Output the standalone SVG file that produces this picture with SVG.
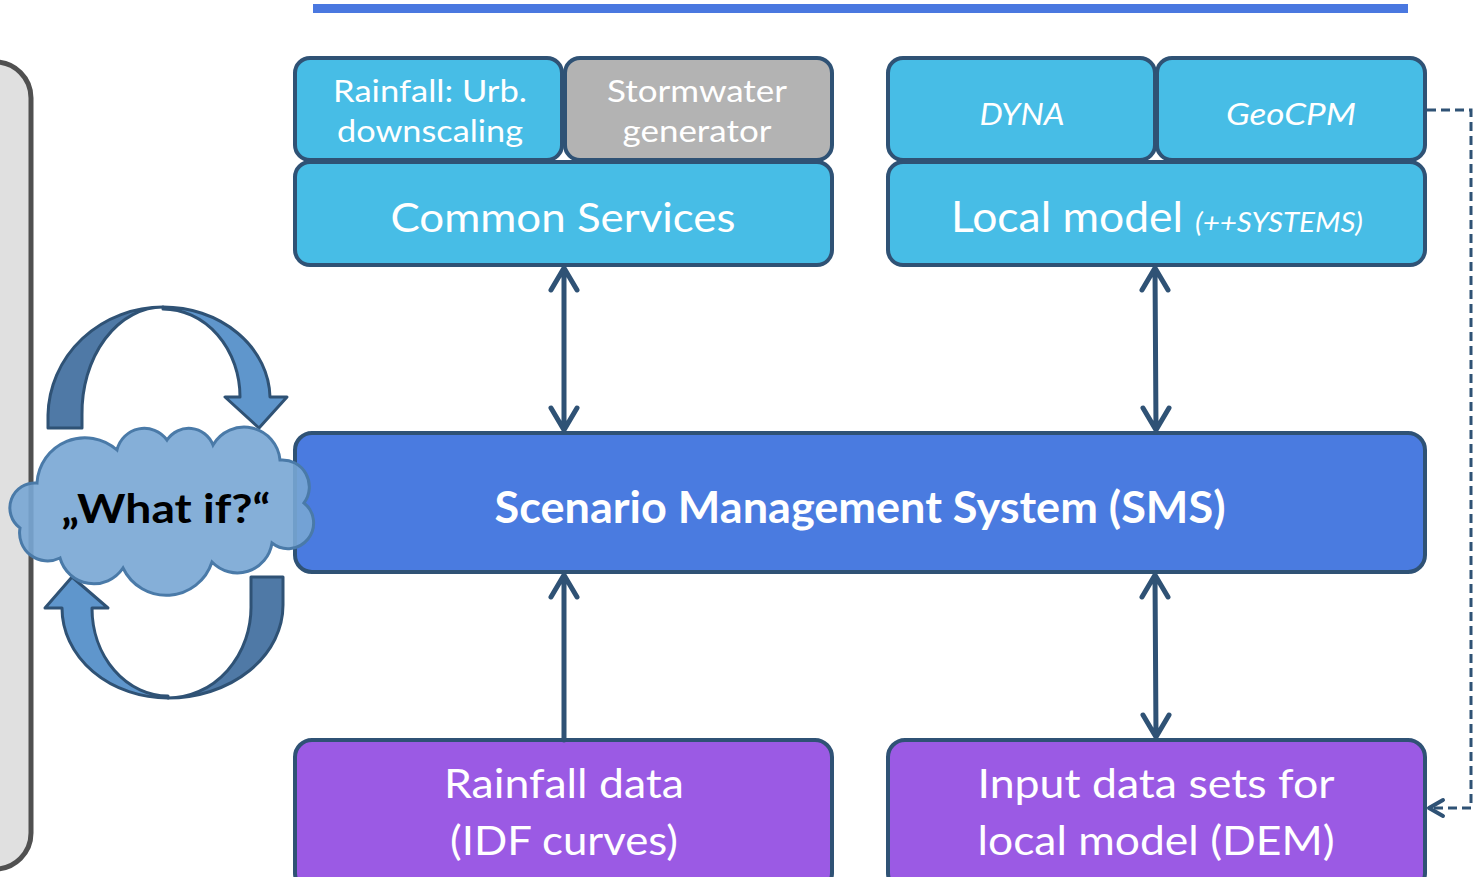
<svg xmlns="http://www.w3.org/2000/svg" width="1481" height="877" viewBox="0 0 1481 877">
<style>
.box{stroke:#2f5275;stroke-width:4}
.cyan{fill:#47bde6}
.gray{fill:#b3b3b3}
.sms{fill:#4a7be0}
.purple{fill:#9b5ae4}
.t{font-family:Lato,"Open Sans","Liberation Sans",sans-serif;fill:#ffffff;text-anchor:middle}
.it{font-style:italic}
.conn{stroke:#2f5275;stroke-width:5;fill:none;stroke-linecap:round;stroke-linejoin:round}
.dash{stroke:#2f5275;stroke-width:3;fill:none;stroke-dasharray:9 5}
.dk{fill:#4f79a6;stroke:#2f5275;stroke-width:3;stroke-linejoin:round}
.lt{fill:#5f96cc;stroke:#2f5275;stroke-width:3;stroke-linejoin:round}
</style>
<rect x="0" y="0" width="1481" height="877" fill="#ffffff"/>
<rect x="313" y="4" width="1095" height="9" fill="#4a78e0"/>
<g id="panel">
<rect x="-60" y="62" width="91" height="807" rx="36" fill="#e0e0e0" stroke="#505050" stroke-width="5"/>
</g>
<g id="cycle-arrows">
<path class="dk" d="M48,428 L48,415 A115,110 0 0 1 163,307 A81,106 0 0 0 82,415 L82,428 Z"/>
<path class="lt" d="M163,307 A107,92 0 0 1 270,397 L287,397 L259,428 L225,397 L240,397 A77,88 0 0 0 163,309 Z"/>
<path class="dk" d="M251,577 L283,577 L283,605 A115,93 0 0 1 168,698 A83,91 0 0 0 251,605 Z"/>
<path class="lt" d="M168,698 A106,90 0 0 1 62,608 L45,608 L72,577 L108,608 L92,608 A76,88 0 0 0 168,696 Z"/>
</g>
<g id="rainfall-urb">
<rect class="box cyan" x="295" y="58" width="267" height="102" rx="15"/>
<text class="t" x="430" y="102" font-size="31" textLength="194" lengthAdjust="spacingAndGlyphs">Rainfall: Urb.</text>
<text class="t" x="430" y="142" font-size="31" textLength="186" lengthAdjust="spacingAndGlyphs">downscaling</text>
</g>
<g id="stormwater">
<rect class="box gray" x="565" y="58" width="267" height="102" rx="15"/>
<text class="t" x="697" y="102" font-size="31" fill="#f2f2f2" textLength="180" lengthAdjust="spacingAndGlyphs">Stormwater</text>
<text class="t" x="697" y="142" font-size="31" fill="#f2f2f2" textLength="149" lengthAdjust="spacingAndGlyphs">generator</text>
</g>
<g id="common-services">
<rect class="box cyan" x="295" y="162" width="537" height="103" rx="15"/>
<text class="t" x="563" y="232" font-size="41" textLength="345" lengthAdjust="spacingAndGlyphs">Common Services</text>
</g>
<g id="dyna">
<rect class="box cyan" x="888" y="58" width="267" height="102" rx="15"/>
<text class="t it" x="1022" y="125" font-size="30" textLength="85" lengthAdjust="spacingAndGlyphs">DYNA</text>
</g>
<g id="geocpm">
<rect class="box cyan" x="1157" y="58" width="268" height="102" rx="15"/>
<text class="t it" x="1291" y="125" font-size="30" textLength="130" lengthAdjust="spacingAndGlyphs">GeoCPM</text>
</g>
<g id="local-model">
<rect class="box cyan" x="888" y="162" width="537" height="103" rx="15"/>
<text class="t" x="951" y="232" font-size="42" style="text-anchor:start" textLength="232" lengthAdjust="spacingAndGlyphs">Local model</text>
<text class="t it" x="1195" y="232" font-size="27" style="text-anchor:start" textLength="168" lengthAdjust="spacingAndGlyphs">(++SYSTEMS)</text>
</g>
<g id="sms">
<rect class="box sms" x="295" y="433" width="1130" height="139" rx="17"/>
<text class="t" x="860" y="523" font-size="44" font-weight="bold" textLength="731" lengthAdjust="spacingAndGlyphs">Scenario Management System (SMS)</text>
</g>
<g id="rainfall-data">
<rect class="box purple" x="295" y="740" width="537" height="150" rx="17"/>
<text class="t" x="564" y="798" font-size="40" textLength="240" lengthAdjust="spacingAndGlyphs">Rainfall data</text>
<text class="t" x="564" y="855" font-size="40" textLength="228" lengthAdjust="spacingAndGlyphs">(IDF curves)</text>
</g>
<g id="input-data">
<rect class="box purple" x="888" y="740" width="537" height="150" rx="17"/>
<text class="t" x="1156" y="798" font-size="40" textLength="357" lengthAdjust="spacingAndGlyphs">Input data sets for</text>
<text class="t" x="1156" y="855" font-size="40" textLength="357" lengthAdjust="spacingAndGlyphs">local model (DEM)</text>
</g>
<g id="what-if">
<path d="M20,528 A25,25 0 0 1 37,483 A48,48 0 0 1 117,450 A28,28 0 0 1 167,440 A26,26 0 0 1 213,445 A36,36 0 0 1 280,460 A27,27 0 0 1 304,503 A25,25 0 0 1 272,543 A35,35 0 0 1 212,562 A48,48 0 0 1 123,568 A35,35 0 0 1 60,558 A28,28 0 0 1 20,528 Z" fill="#78a6d4" fill-opacity="0.9" stroke="#4a7aa8" stroke-width="3"/>
<text x="166" y="523" font-family="Lato,'Open Sans','Liberation Sans',sans-serif" font-size="41" font-weight="bold" fill="#000000" text-anchor="middle" textLength="209" lengthAdjust="spacingAndGlyphs">„What if?“</text>
</g>
<g id="connectors">
<path class="conn" d="M564,268 L564,430 M551,290 L564,268 L577,290 M551,408 L564,430 L577,408"/>
<path class="conn" d="M1155,268 L1156,430 M1142,290 L1155,268 L1168,290 M1143,408 L1156,430 L1169,408"/>
<path class="conn" d="M564,575 L564,740 M551,597 L564,575 L577,597"/>
<path class="conn" d="M1155,575 L1156,737 M1142,597 L1155,575 L1168,597 M1143,715 L1156,737 L1169,715"/>
<path class="dash" d="M1427,110 L1471,110 L1471,808 L1430,808"/>
<path class="conn" style="stroke-width:4" d="M1443,800 L1429,808 L1443,816"/>
</g>
</svg>
